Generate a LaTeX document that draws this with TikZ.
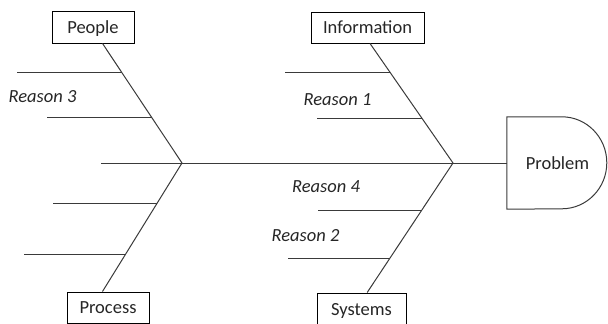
\documentclass[tikz,border=0pt]{standalone}
\usepackage{fontspec}
\setmainfont{Carlito}
\usetikzlibrary{calc}
\definecolor{linec}{HTML}{3A3A3A}
\definecolor{textc}{HTML}{262626}
\begin{document}
\begin{tikzpicture}[x=1pt,y=-1pt,
  bone/.style={draw=linec, line width=1pt},
  catbox/.style={draw=black, line width=1pt, fill=white, inner sep=0pt,
    text height=12pt, text depth=0pt, font=\fontsize{18.5}{22}\selectfont, text=textc},
  reason/.style={font=\fontsize{18.5}{22}\selectfont\itshape, text=textc, inner sep=0pt, anchor=base}]
\useasboundingbox (0,0) rectangle (608,324);
% category boxes
\node[catbox, minimum width=82pt, minimum height=32pt] (People) at (93,27) {People};
\node[catbox, minimum width=113pt, minimum height=31pt] (Information) at (367.5,27.5) {Information};
\node[catbox, minimum width=82pt, minimum height=31pt] (Process) at (108,307.5) {Process};
\node[catbox, minimum width=89pt, minimum height=32pt] (Systems) at (361.5,309) {Systems};
% problem head
\node[inner sep=0pt, minimum width=101pt, minimum height=92pt, text height=12pt, text depth=0pt,
  font=\fontsize{18.5}{22}\selectfont, text=textc] (Problem) at (557.5,163) {Problem};
\draw[draw=linec, line width=1pt] (Problem.north west) -- ++(55,0)
  arc[start angle=90, end angle=-90, x radius=45pt, y radius=46pt] -- (Problem.south west) -- cycle;
% spine
\coordinate (spineL) at (101,163);
\coordinate (j1) at (182,163);
\coordinate (j2) at (453,163);
\draw[bone] (spineL) -- (Problem.west);
% bones
\draw[bone] (j1) -- (People.-60);
\draw[bone] (j1) -- (Process.109);
\draw[bone] (j2) -- (Information.-81);
\draw[bone] (j2) -- (Systems.71);
% branches
\draw[bone] ($(j1)!0.758!(People.-60)$) -- ++(-105,0);
\draw[bone] ($(j1)!0.383!(People.-60)$) -- ++(-105,0);
\draw[bone] ($(j1)!0.315!(Process.109)$) -- ++(-104,0);
\draw[bone] ($(j1)!0.709!(Process.109)$) -- ++(-102,0);
\draw[bone] ($(j2)!0.758!(Information.-81)$) -- ++(-105,0);
\draw[bone] ($(j2)!0.375!(Information.-81)$) -- ++(-105,0);
\draw[bone] ($(j2)!0.369!(Systems.71)$) -- ++(-103,0);
\draw[bone] ($(j2)!0.738!(Systems.71)$) -- ++(-102,0);
% reasons
\node[reason] (r3) at (42.5,102) {Reason 3};
\node[reason] (r1) at (337.5,105) {Reason 1};
\node[reason] (r4) at (326,192) {Reason 4};
\node[reason] (r2) at (305.5,241) {Reason 2};
\end{tikzpicture}
\end{document}
